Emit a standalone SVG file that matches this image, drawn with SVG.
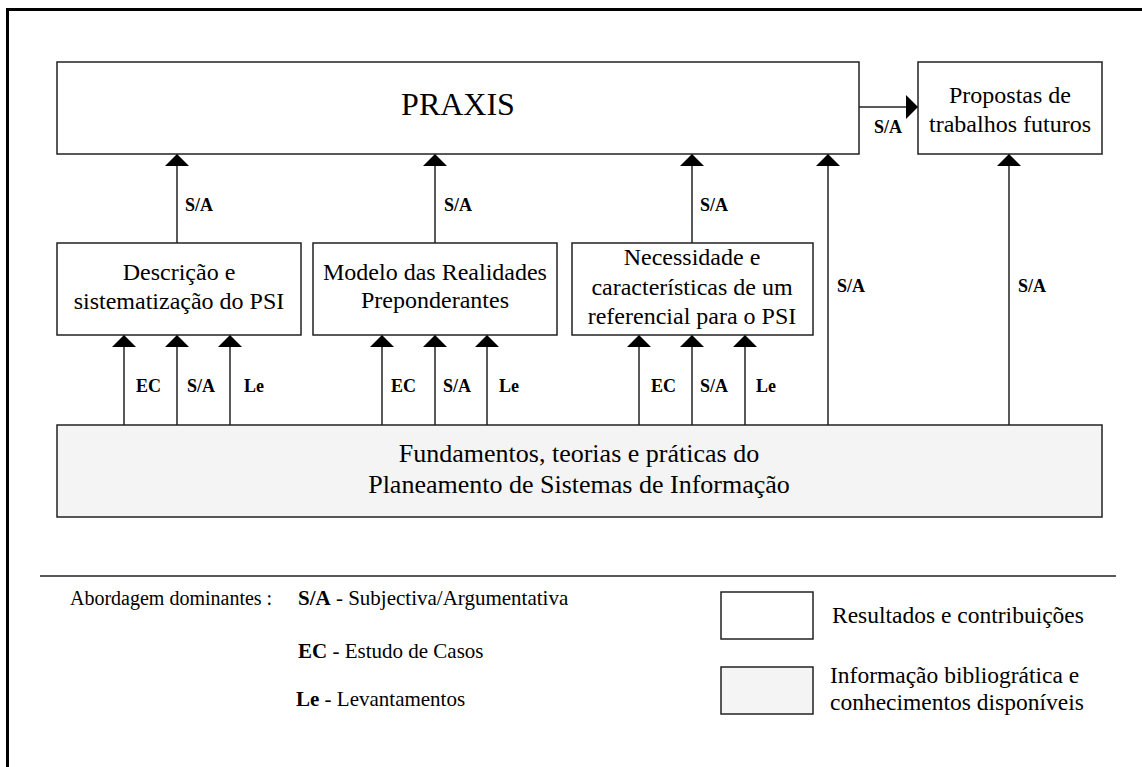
<svg xmlns="http://www.w3.org/2000/svg" width="1142" height="767" viewBox="0 0 1142 767">
  <style>
    .box { fill: #ffffff; stroke: #222222; stroke-width: 1.5; }
    .base { fill: #f4f4f4; stroke: #222222; stroke-width: 1.5; }
    .wire { stroke: #222222; stroke-width: 1.5; fill: none; marker-end: url(#head); }
    .t { font-family: "Liberation Serif", "Times New Roman", serif; fill: #000000; }
    .lbl { font-family: "Liberation Serif", "Times New Roman", serif; font-weight: bold; font-size: 18px; fill: #000000; }
    .mid { text-anchor: middle; }
  </style>
  <defs>
    <marker id="head" viewBox="0 0 12 24" refX="12" refY="12" markerWidth="12" markerHeight="24" markerUnits="userSpaceOnUse" orient="auto">
      <path d="M0,0 L12,12 L0,24 Z" fill="#000000"/>
    </marker>
  </defs>

  <!-- outer frame -->
  <rect x="7.5" y="9.5" width="1300" height="900" fill="none" stroke="#000000" stroke-width="3"/>

  <!-- connectors -->
  <g id="connectors">
    <line class="wire" x1="859" y1="107" x2="918" y2="107"/>
    <line class="wire" x1="177" y1="243" x2="177" y2="154"/>
    <line class="wire" x1="435" y1="243" x2="435" y2="154"/>
    <line class="wire" x1="692" y1="243" x2="692" y2="154"/>
    <line class="wire" x1="828" y1="425" x2="828" y2="154"/>
    <line class="wire" x1="1009" y1="425" x2="1009" y2="154"/>

    <line class="wire" x1="124" y1="425" x2="124" y2="335"/>
    <line class="wire" x1="177" y1="425" x2="177" y2="335"/>
    <line class="wire" x1="230" y1="425" x2="230" y2="335"/>

    <line class="wire" x1="382" y1="425" x2="382" y2="335"/>
    <line class="wire" x1="435" y1="425" x2="435" y2="335"/>
    <line class="wire" x1="487" y1="425" x2="487" y2="335"/>

    <line class="wire" x1="639" y1="425" x2="639" y2="335"/>
    <line class="wire" x1="692" y1="425" x2="692" y2="335"/>
    <line class="wire" x1="745" y1="425" x2="745" y2="335"/>

    <!-- connector labels -->
    <text class="lbl" x="874" y="133">S/A</text>
    <text class="lbl" x="185" y="211">S/A</text>
    <text class="lbl" x="444" y="211">S/A</text>
    <text class="lbl" x="700" y="211">S/A</text>
    <text class="lbl" x="837" y="292">S/A</text>
    <text class="lbl" x="1018" y="292">S/A</text>

    <text class="lbl" x="136" y="392">EC</text>
    <text class="lbl" x="187" y="392">S/A</text>
    <text class="lbl" x="244" y="392">Le</text>

    <text class="lbl" x="391" y="392">EC</text>
    <text class="lbl" x="443" y="392">S/A</text>
    <text class="lbl" x="499" y="392">Le</text>

    <text class="lbl" x="651" y="392">EC</text>
    <text class="lbl" x="700" y="392">S/A</text>
    <text class="lbl" x="756" y="392">Le</text>
  </g>

  <g id="praxis">
    <rect class="box" x="57" y="62" width="802" height="92"/>
    <text class="t mid" x="458" y="115" font-size="32">PRAXIS</text>
  </g>

  <g id="propostas">
    <rect class="box" x="918" y="62" width="184" height="92"/>
    <text class="t mid" x="1010" y="103" font-size="24">Propostas de</text>
    <text class="t mid" x="1010" y="132" font-size="24">trabalhos futuros</text>
  </g>

  <g id="descricao">
    <rect class="box" x="57" y="243" width="244" height="92"/>
    <text class="t mid" x="179" y="280" font-size="24">Descrição e</text>
    <text class="t mid" x="179" y="309" font-size="24">sistematização do PSI</text>
  </g>

  <g id="modelo">
    <rect class="box" x="313" y="243" width="244" height="92"/>
    <text class="t mid" x="435" y="280" font-size="24">Modelo das Realidades</text>
    <text class="t mid" x="435" y="308" font-size="24">Preponderantes</text>
  </g>

  <g id="necessidade">
    <rect class="box" x="572" y="243" width="241" height="92"/>
    <text class="t mid" x="692" y="265" font-size="24">Necessidade e</text>
    <text class="t mid" x="692" y="295" font-size="24">características de um</text>
    <text class="t mid" x="692" y="324" font-size="24">referencial para o PSI</text>
  </g>

  <g id="fundamentos">
    <rect class="base" x="57" y="425" width="1045" height="92"/>
    <text class="t mid" x="579" y="462" font-size="26">Fundamentos, teorias e práticas do</text>
    <text class="t mid" x="579" y="493" font-size="26">Planeamento de Sistemas de Informação</text>
  </g>

  <!-- legend -->
  <g id="legend">
    <line x1="40" y1="576" x2="1116" y2="576" stroke="#222222" stroke-width="1.5"/>
    <text class="t" x="70" y="605" font-size="20">Abordagem dominantes :</text>
    <text class="t" x="298" y="605" font-size="21"><tspan font-weight="bold">S/A</tspan> - Subjectiva/Argumentativa</text>
    <text class="t" x="298" y="658" font-size="21"><tspan font-weight="bold">EC</tspan> - Estudo de Casos</text>
    <text class="t" x="296" y="706" font-size="21"><tspan font-weight="bold">Le</tspan> - Levantamentos</text>

    <rect class="box" x="721" y="592" width="92" height="47"/>
    <text class="t" x="832" y="623" font-size="23.5">Resultados e contribuições</text>
    <rect class="base" x="721" y="667" width="92" height="47"/>
    <text class="t" x="830" y="683" font-size="23.5">Informação bibliogrática e</text>
    <text class="t" x="830" y="710" font-size="23.5">conhecimentos disponíveis</text>
  </g>
</svg>
